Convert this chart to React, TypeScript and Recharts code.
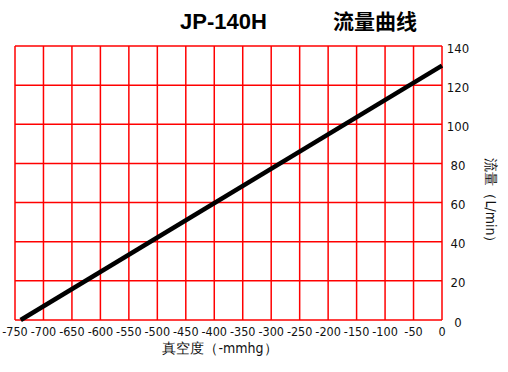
import { LineChart, Line, XAxis, YAxis, CartesianGrid } from 'recharts';

// vacuum (-mmHg) vs flow (L/min)
const vacuum = [-740, 0];
const flow = [0, 130];

const xTicks = [-750, -700, -650, -600, -550, -500, -450, -400, -350, -300, -250, -200, -150, -100, -50, 0];
const yTicks = [0, 20, 40, 60, 80, 100, 120, 140];

const data = vacuum.map((v, i) => ({ vacuum: v, flow: flow[i] }));

const tickFont = "'DejaVu Sans Condensed', 'DejaVu Sans', sans-serif";

function RightTick(props: any) {
  const { x, y, payload } = props;
  return (
    <text x={x + 8} y={y + 3} textAnchor="middle" dominantBaseline="middle" fill="#111" fontSize={13} fontFamily={tickFont}>
      {payload.value}
    </text>
  );
}

function BottomTick(props: any) {
  const { x, y, payload } = props;
  return (
    <text x={x} y={y + 4} textAnchor="middle" dominantBaseline="middle" fill="#111" fontSize={12.5} fontFamily={tickFont}>
      {payload.value}
    </text>
  );
}

function FlowLabel(props: any) {
  const { viewBox } = props;
  const cx = viewBox.x + 48;
  const cy = 204;
  return (
    <text x={cx} y={cy} textAnchor="middle" dominantBaseline="middle" transform={`rotate(90 ${cx} ${cy})`} fill="#111" fontSize={14} fontFamily={tickFont}>
      流量（L/min）
    </text>
  );
}

function VacuumLabel(props: any) {
  const { viewBox } = props;
  return (
    <text x={220} y={viewBox.y + 29} textAnchor="middle" dominantBaseline="middle" fill="#111" fontSize={14} fontFamily={tickFont}>
      真空度（-mmhg）
    </text>
  );
}

export default function App() {
  return (
    <div style={{ position: 'absolute', left: 0, top: 0, width: 508, height: 372, background: '#fff' }}>
      <div style={{ position: 'absolute', left: 180, top: 11, fontFamily: "'Liberation Sans', Arial, sans-serif", fontWeight: 'bold', fontSize: 22, lineHeight: '22px', color: '#000', whiteSpace: 'nowrap' }}>
        JP-140H
      </div>
      <div style={{ position: 'absolute', left: 333, top: 10, fontFamily: "'Noto Sans CJK SC', sans-serif", fontWeight: 'bold', fontSize: 21, lineHeight: '21px', color: '#000', whiteSpace: 'nowrap' }}>
        流量曲线
      </div>
      <LineChart width={508} height={372} data={data} margin={{ top: 46, right: 0, bottom: 0, left: 15 }}>
        <CartesianGrid stroke="#ff0000" strokeWidth={1.5} horizontalValues={yTicks} verticalValues={xTicks} />
        <XAxis
          dataKey="vacuum"
          type="number"
          domain={[-750, 0]}
          ticks={xTicks}
          interval={0}
          axisLine={false}
          tickLine={false}
          tick={<BottomTick />}
          height={52}
          label={<VacuumLabel />}
        />
        <YAxis
          orientation="right"
          type="number"
          domain={[0, 140]}
          ticks={yTicks}
          interval={0}
          axisLine={false}
          tickLine={false}
          width={66}
          tick={<RightTick />}
          label={<FlowLabel />}
        />
        <Line dataKey="flow" stroke="#000" strokeWidth={4.5} dot={false} isAnimationActive={false} />
      </LineChart>
    </div>
  );
}
